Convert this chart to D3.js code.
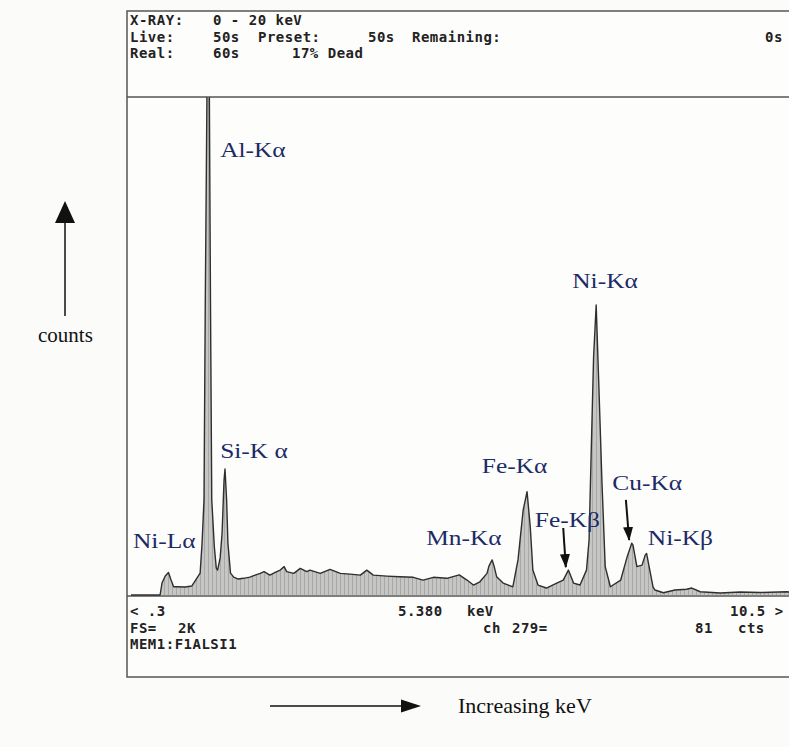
<!DOCTYPE html>
<html>
<head>
<meta charset="utf-8">
<script src="https://cdn.jsdelivr.net/npm/d3@7/dist/d3.min.js"></script>
<style>
  body { margin: 0; background: #fbfbf9; }
  svg { display: block; }
</style>
</head>
<body>
<svg></svg>
<script>
// spectrum: energy (keV) and counts per channel
const energy = [0.30, 0.75, 0.78, 0.83, 0.88, 0.92, 0.96, 1.01, 1.14, 1.24, 1.32, 1.37,
  1.40, 1.43, 1.45, 1.48, 1.51, 1.53, 1.55, 1.59, 1.62, 1.64, 1.68, 1.71, 1.74, 1.755,
  1.78, 1.80, 1.84, 1.89, 1.96, 2.04, 2.14, 2.22, 2.30, 2.36, 2.45, 2.54, 2.61, 2.67,
  2.71, 2.82, 2.92, 3.02, 3.07, 3.23, 3.38, 3.54, 3.69, 3.85, 3.95, 4.05, 4.26, 4.46,
  4.67, 4.82, 4.98, 5.19, 5.38, 5.50, 5.60, 5.70, 5.81, 5.84, 5.89, 5.92, 5.96, 6.06,
  6.21, 6.29, 6.37, 6.43, 6.48, 6.52, 6.60, 6.73, 6.89, 6.99, 7.07, 7.15, 7.25, 7.35,
  7.39, 7.42, 7.46, 7.50, 7.54, 7.59, 7.64, 7.72, 7.88, 7.98, 8.05, 8.07, 8.13, 8.21,
  8.26, 8.28, 8.33, 8.38, 8.41, 8.54, 8.72, 8.90, 8.98, 9.11, 9.42, 9.73, 10.04, 10.45, 10.50];
const counts = [0, 0, 48, 76, 90, 60, 33, 33, 32, 36, 68, 88,
  209, 382, 1185, 2150, 2150, 1185, 382, 193, 108, 100, 149, 249, 462, 506,
  382, 209, 88, 72, 64, 67, 72, 80, 87, 94, 80, 92, 100, 114,
  94, 87, 107, 94, 100, 87, 103, 87, 84, 80, 100, 80, 76, 73,
  71, 60, 71, 67, 81, 60, 40, 53, 87, 116, 141, 116, 73, 48,
  33, 141, 341, 415, 273, 100, 40, 28, 48, 60, 100, 48, 40, 100,
  221, 542, 956, 1165, 851, 450, 114, 33, 60, 154, 208, 200, 114, 120,
  161, 167, 100, 33, 20, 9, 20, 23, 28, 13, 8, 12, 10, 13, 12];

// peak annotations (anchor in keV / counts)
const peakLabels = ['Al-K\u03b1', 'Ni-K\u03b1', 'Si-K \u03b1', 'Fe-K\u03b1', 'Cu-K\u03b1',
  'Mn-K\u03b1', 'Fe-K\u03b2', 'Ni-K\u03b2', 'Ni-L\u03b1'];
const labelKeV = [1.68, 7.13, 1.68, 5.73, 7.75, 4.87, 6.55, 8.30, 0.33];
const labelCounts = [1759, 1233, 550, 490, 422, 201, 273, 201, 189];

// pointer arrows [fromKeV, fromCounts, toKeV, toCounts]
const arrows = [[6.99, 269, 7.03, 112], [7.96, 382, 8.01, 221]];

// screen read-outs
const headerRows = [
  [['X-RAY:', 130], ['0 - 20 keV', 213]],
  [['Live:', 130], ['50s', 213], ['Preset:', 258], ['50s', 368], ['Remaining:', 412], ['0s', 765]],
  [['Real:', 130], ['60s', 213], ['17% Dead', 292]]
];
const footerRows = [
  [['< .3', 130], ['5.380', 398], ['keV', 467], ['10.5 >', 730]],
  [['FS=', 130], ['2K', 178], ['ch', 483], ['279=', 512], ['81', 695], ['cts', 738]],
  [['MEM1:F1ALSI1', 130]]
];

const width = 789, height = 747;
const svg = d3.select('svg').attr('width', width).attr('height', height);

const box = { left: 127, top: 11, right: 800, headBottom: 97, footTop: 596, bottom: 677 };

const x = d3.scaleLinear().domain([0.3, 10.5]).range([131, 790]);
const y = d3.scaleLinear().domain([0, 2000]).range([595, 97]);

const defs = svg.append('defs');

// the photographed screen shows the fill as fine vertical stripes
const stripes = defs.append('pattern')
  .attr('id', 'stripes')
  .attr('patternUnits', 'userSpaceOnUse')
  .attr('width', 4).attr('height', 10);
stripes.append('rect').attr('width', 4).attr('height', 10).attr('fill', '#c6c6c4');
stripes.append('rect').attr('width', 1).attr('height', 10).attr('fill', '#a8a8a6');

// instrument screen frame
svg.append('rect')
  .attr('x', box.left).attr('y', box.top)
  .attr('width', box.right - box.left).attr('height', box.bottom - box.top)
  .attr('fill', '#fdfdfc').attr('stroke', '#555').attr('stroke-width', 1.5);
svg.append('line')
  .attr('x1', box.left).attr('x2', box.right)
  .attr('y1', box.headBottom).attr('y2', box.headBottom)
  .attr('stroke', '#555').attr('stroke-width', 1.5);
svg.append('line')
  .attr('x1', box.left).attr('x2', box.right)
  .attr('y1', box.footTop).attr('y2', box.footTop)
  .attr('stroke', '#555').attr('stroke-width', 1.5);

defs.append('clipPath').attr('id', 'plotclip')
  .append('rect')
  .attr('x', box.left).attr('y', box.headBottom)
  .attr('width', box.right - box.left).attr('height', box.footTop - box.headBottom);

const spectrum = energy.map((e, i) => ({ e, c: counts[i] }));

const area = d3.area()
  .x(d => x(d.e))
  .y0(y(0))
  .y1(d => y(d.c));
const line = d3.line()
  .x(d => x(d.e))
  .y(d => y(d.c));

const plot = svg.append('g').attr('clip-path', 'url(#plotclip)');
plot.append('path')
  .datum(spectrum)
  .attr('d', area)
  .attr('fill', 'url(#stripes)');
plot.append('path')
  .datum(spectrum)
  .attr('d', line)
  .attr('fill', 'none')
  .attr('stroke', '#2f2f2f')
  .attr('stroke-width', 1.4)
  .attr('stroke-linejoin', 'round');

// read-out text
const mono = "'DejaVu Sans Mono', monospace";
function readout(rows, baselines) {
  rows.forEach((row, r) => {
    row.forEach(([txt, px]) => {
      svg.append('text')
        .attr('x', px).attr('y', baselines[r])
        .attr('font-family', mono)
        .attr('font-size', 14)
        .attr('font-weight', 'bold')
        .attr('letter-spacing', 0.5)
        .attr('fill', '#222')
        .attr('xml:space', 'preserve')
        .text(txt);
    });
  });
}
readout(headerRows, [25, 41.5, 58]);
readout(footerRows, [616, 632.5, 649]);

// peak labels (the annotations are stretched sideways in the original)
const serif = "'Liberation Serif', 'Times New Roman', serif";
svg.append('g')
  .selectAll('text')
  .data(peakLabels)
  .join('text')
  .attr('transform', (d, i) => `translate(${x(labelKeV[i])},${y(labelCounts[i])}) scale(1.27,1)`)
  .attr('font-family', serif)
  .attr('font-size', 20)
  .attr('fill', '#1c2a66')
  .text(d => d);

// arrowheads
defs.append('marker')
  .attr('id', 'head')
  .attr('viewBox', '0 0 14 10')
  .attr('refX', 13).attr('refY', 5)
  .attr('markerWidth', 7).attr('markerHeight', 7)
  .attr('orient', 'auto')
  .append('path')
  .attr('d', 'M0,0 L14,5 L0,10 z')
  .attr('fill', '#111');

svg.append('g')
  .selectAll('line')
  .data(arrows)
  .join('line')
  .attr('x1', d => x(d[0])).attr('y1', d => y(d[1]))
  .attr('x2', d => x(d[2])).attr('y2', d => y(d[3]))
  .attr('stroke', '#111')
  .attr('stroke-width', 2)
  .attr('marker-end', 'url(#head)');

// axis hints outside the screen
svg.append('line')
  .attr('x1', 65).attr('y1', 316).attr('x2', 65).attr('y2', 220)
  .attr('stroke', '#111').attr('stroke-width', 1.5);
svg.append('path')
  .attr('d', 'M65,201 L75,223 L55,223 Z')
  .attr('fill', '#111');
svg.append('text')
  .attr('x', 38).attr('y', 342)
  .attr('font-family', serif).attr('font-size', 21)
  .attr('fill', '#111')
  .text('counts');

svg.append('line')
  .attr('x1', 270).attr('y1', 706).attr('x2', 405).attr('y2', 706)
  .attr('stroke', '#111').attr('stroke-width', 1.5);
svg.append('path')
  .attr('d', 'M421,706 L401,699.5 L401,712.5 Z')
  .attr('fill', '#111');
svg.append('text')
  .attr('x', 458).attr('y', 713)
  .attr('font-family', serif).attr('font-size', 22)
  .attr('fill', '#111')
  .text('Increasing keV');
</script>
</body>
</html>
